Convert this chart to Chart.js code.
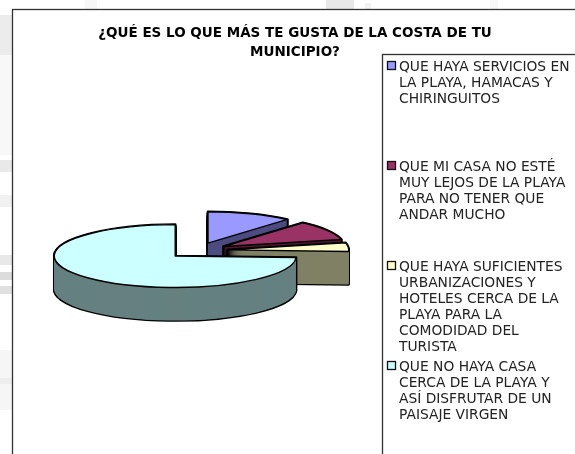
<!DOCTYPE html>
<html><head><meta charset="utf-8">
<style>html,body{margin:0;padding:0;background:#fff;overflow:hidden}canvas{display:block;filter:blur(0.35px)}</style>
<script src="https://cdn.jsdelivr.net/npm/chart.js@4"></script>
</head><body><canvas id="c" width="575" height="454"></canvas>
<script>
const titleLines = ['¿QUÉ ES LO QUE MÁS TE GUSTA DE LA COSTA DE TU', 'MUNICIPIO?'];
const categories = [
  ['QUE HAYA SERVICIOS EN', 'LA PLAYA, HAMACAS Y', 'CHIRINGUITOS'],
  ['QUE MI CASA NO ESTÉ', 'MUY LEJOS DE LA PLAYA', 'PARA NO TENER QUE', 'ANDAR MUCHO'],
  ['QUE HAYA SUFICIENTES', 'URBANIZACIONES Y', 'HOTELES CERCA DE LA', 'PLAYA PARA LA', 'COMODIDAD DEL', 'TURISTA'],
  ['QUE NO HAYA CASA', 'CERCA DE LA PLAYA Y', 'ASÍ DISFRUTAR DE UN', 'PAISAJE VIRGEN']
];
const shares = [11.4, 10, 4.4, 74.2];
const topColors = ['#9999ff', '#993366', '#ffffcc', '#ccffff'];
const sideColors = ['#4d4d80', '#4d1a33', '#808066', '#668080'];

const PIE = {cx: 197.3, cy: 250.6, rx: 121, squash: 0.26, explode: 30.5, depth: 33};
const LEGEND = {boxX: 387, textX: 399, tops: [67, 167, 267, 367], pitch: 16, frameX: 382.5, frameY: 54.5};
const BG = [[0,15,12,40,'#ececec'],[0,55,12,100,'#f8f8f8'],[0,160,12,12,'#e9e9e9'],[0,195,12,12,'#f1f1f1'],[0,255,12,10,'#e8e8e8'],[0,272,12,8,'#dcdcdc'],[0,286,12,8,'#e0e0e0'],[0,350,12,60,'#f6f6f6'],[0,378,12,6,'#eee'],
  [85,0,12,9,'#f7f7f7'],[326,0,28,9,'#e8e8e8'],[365,3,6,6,'#f3f3f3'],[490,0,8,9,'#f7f7f7']];

const pie3d = {
  id: 'pie3d',
  beforeDraw(chart) {
    const c = chart.ctx;
    c.save();
    c.fillStyle = '#fff'; c.fillRect(0, 0, chart.width, chart.height);
    BG.forEach(b => { c.fillStyle = b[4]; c.fillRect(b[0], b[1], b[2], b[3]); });
    c.fillStyle = '#fff'; c.fillRect(12, 9, chart.width, chart.height);
    c.strokeStyle = '#333'; c.lineWidth = 1.3;
    c.strokeRect(12.5, 9.5, chart.width + 20, chart.height + 20);
    c.strokeRect(LEGEND.frameX, LEGEND.frameY, chart.width + 20, chart.height + 20);
    c.restore();
  },
  beforeDatasetsDraw(chart) {
    const c = chart.ctx;
    const arcs = chart.getDatasetMeta(0).data;
    c.stroke = function () {
      this.save(); this.setTransform(1, 0, 0, 1, 0, 0);
      CanvasRenderingContext2D.prototype.stroke.call(this);
      this.restore();
    };
    const paint = (arc, dy, fill, edge, width) => {
      const base = arc.options;
      const mid = (arc.startAngle + arc.endAngle) / 2;
      c.save();
      c.translate(PIE.cx, PIE.cy + dy);
      c.scale(1, PIE.squash);
      c.translate(Math.cos(mid) * PIE.explode - arc.x, Math.sin(mid) * PIE.explode - arc.y);
      arc.options = {...base, backgroundColor: fill, borderColor: edge, borderWidth: width, borderJoinStyle: 'round', offset: 0};
      arc.draw(c);
      arc.options = base;
      c.restore();
    };
    arcs.forEach((arc, i) => {
      for (let d = PIE.depth; d >= 0; d--) paint(arc, d, '#000', '#000', 2.6);
      for (let d = PIE.depth; d >= 0; d -= 0.5) paint(arc, d, sideColors[i], sideColors[i], 0);
      paint(arc, 0, topColors[i], '#000', 1.4);
    });
    delete c.stroke;
    return false;
  },
  afterDraw(chart) {
    const c = chart.ctx;
    c.save();
    chart.data.labels.forEach((lines, i) => {
      const top = LEGEND.tops[i];
      c.fillStyle = topColors[i]; c.strokeStyle = '#111'; c.lineWidth = 1.3;
      c.fillRect(LEGEND.boxX + .5, top - 5.5, 8, 8);
      c.strokeRect(LEGEND.boxX + .5, top - 5.5, 8, 8);
      c.fillStyle = '#222'; c.font = '13.8px "DejaVu Sans"'; c.textBaseline = 'middle';
      lines.forEach((t, j) => c.fillText(t, LEGEND.textX, top + j * LEGEND.pitch));
    });
    c.restore();
  }
};

new Chart(document.getElementById('c'), {
  type: 'pie',
  data: {labels: categories, datasets: [{data: shares, backgroundColor: topColors, borderColor: '#000', borderWidth: 1}]},
  options: {
    responsive: false, animation: false, radius: PIE.rx,
    layout: {padding: {left: 15, top: 14}},
    plugins: {
      legend: {display: false}, tooltip: {enabled: false},
      title: {display: true, text: titleLines, color: '#000', font: {family: '"DejaVu Sans"', size: 13.5, weight: 'bold', lineHeight: 1.41}}
    }
  },
  plugins: [pie3d]
});
</script></body></html>
